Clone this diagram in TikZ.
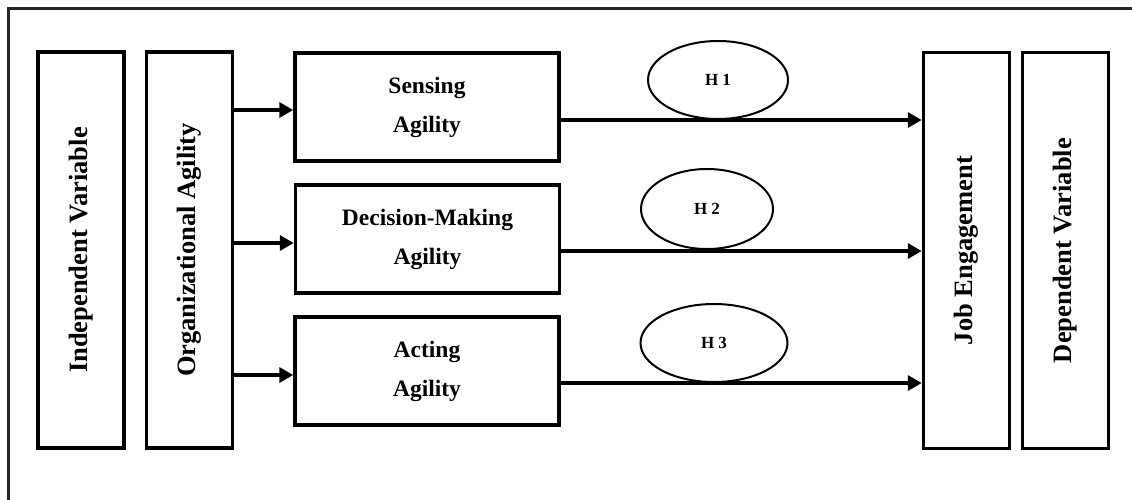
\documentclass[tikz,border=0pt]{standalone}
\usepackage{fontspec}
\setmainfont{Liberation Serif}
\usetikzlibrary{shapes.geometric,arrows.meta,positioning}

\begin{document}
\begin{tikzpicture}[x=1pt, y=-1pt, thick]
  % Styles
  \tikzstyle{varbox} = [rectangle, draw, line width=3.5pt, rotate=90, minimum width=396pt, minimum height=86pt, inner sep=0pt, font=\bfseries\fontsize{26.5}{30}\selectfont]
  \tikzstyle{dimbox} = [rectangle, draw, line width=3.5pt, minimum width=264pt, minimum height=108pt, align=center, font=\bfseries\fontsize{23.5}{39}\selectfont]
  \tikzstyle{hyp} = [ellipse, draw, line width=2pt, minimum width=140pt, minimum height=78pt, inner sep=0pt, font=\bfseries\fontsize{17}{20}\selectfont]
  \tikzstyle{arrow} = [draw, line width=3.5pt, -{Triangle[length=14pt,width=15pt]}]

  % Frame
  \useasboundingbox (0,0) rectangle (1132,499);
  \begin{scope}
    \clip (0,0) rectangle (1132,499);
    \draw[line width=3pt, black!85] (8,8) rectangle (1150,520);
  \end{scope}

  % Nodes
  \node[varbox] (indep) at (81,250) {Independent Variable};
  \node[varbox] (org) at (189.5,250) {Organizational Agility};
  \node[dimbox] (sensing) at (427,107) {Sensing\\Agility};
  \node[dimbox] (decision) at (427.5,239) {Decision-Making\\Agility};
  \node[dimbox] (acting) at (427,371) {Acting\\Agility};
  \node[varbox] (job) at (966.5,250.5) {Job Engagement};
  \node[varbox] (dep) at (1065.5,250.5) {Dependent Variable};

  \node[hyp] (h1) at (718,80) {H 1};
  \node[hyp, minimum width=132pt, minimum height=80pt] (h2) at (707,209) {H 2};
  \node[hyp, minimum width=147pt] (h3) at (714,343) {H 3};

  % Edges
  \path[arrow] ([yshift=-3pt]sensing.west -| org.south) -- ([yshift=-3pt]sensing.west);
  \path[arrow] ([yshift=-4pt]decision.west -| org.south) -- ([yshift=-4pt]decision.west);
  \path[arrow] ([yshift=-4pt]acting.west -| org.south) -- ([yshift=-4pt]acting.west);

  \path[arrow] ([yshift=-13pt]sensing.east) -- ([yshift=-13pt]sensing.east -| job.north);
  \path[arrow] ([yshift=-12pt]decision.east) -- ([yshift=-12pt]decision.east -| job.north);
  \path[arrow] ([yshift=-12pt]acting.east) -- ([yshift=-12pt]acting.east -| job.north);

\end{tikzpicture}
\end{document}
